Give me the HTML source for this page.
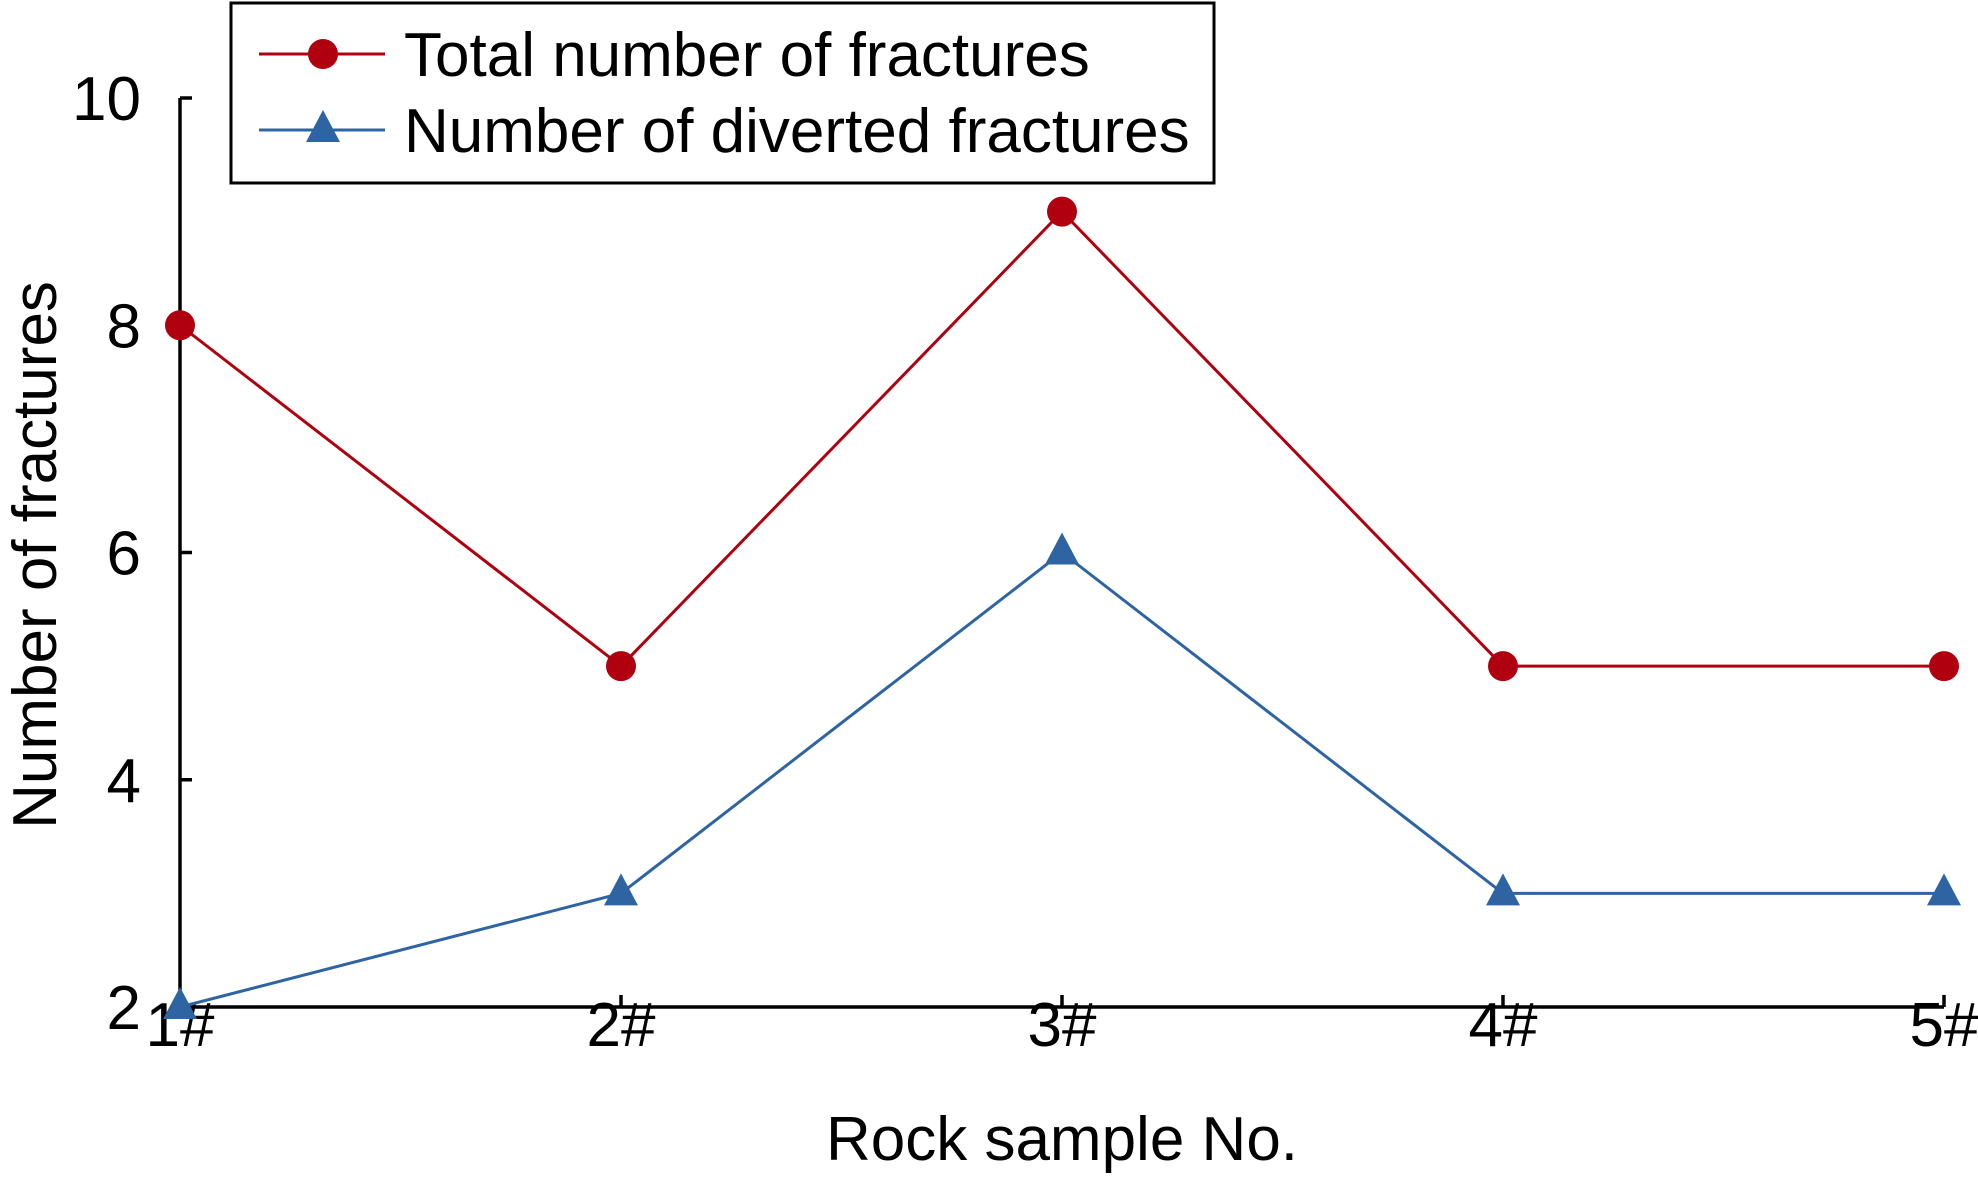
<!DOCTYPE html>
<html><head><meta charset="utf-8"><style>
body{margin:0;background:#fff}
svg{display:block;font-family:"Liberation Sans",Arial,sans-serif}
</style></head><body>
<svg id="chart" width="1978" height="1185" viewBox="0 0 1978 1185" xmlns="http://www.w3.org/2000/svg"></svg>
<script>
const categories = ["1#","2#","3#","4#","5#"];
const totalFractures = [8,5,9,5,5];
const divertedFractures = [2,3,6,3,3];
const yTicks = [2,4,6,8,10];
const NS="http://www.w3.org/2000/svg";
const svg=document.getElementById('chart');
const x0=180,dx=441,y0=1007,yMin=2,yMax=10,yTop=98;
function X(i){return x0+i*dx;}
function Y(v){return y0-(v-yMin)*(y0-yTop)/(yMax-yMin);}
function mk(tag,attrs,parent){const e=document.createElementNS(NS,tag);for(const k in attrs)e.setAttribute(k,attrs[k]);(parent||svg).appendChild(e);return e;}
let a=mk('line',{x1:x0,y1:yTop,x2:x0,y2:y0,stroke:'#000','stroke-width':3.5});


a=mk('line',{x1:x0,y1:y0,x2:X(4),y2:y0,stroke:'#000','stroke-width':3.5});


yTicks.forEach(v=>{
  const t=mk('line',{x1:x0,y1:Y(v),x2:x0+12,y2:Y(v),stroke:'#000','stroke-width':3.5});
  
  
  const l=mk('text',{x:141,y:Y(v)+22,'text-anchor':'end','font-size':62});
  l.textContent=v;
  
  
});
categories.forEach((c,i)=>{
  const t=mk('line',{x1:X(i),y1:y0,x2:X(i),y2:y0-12,stroke:'#000','stroke-width':3.5});
  
  
  const l=mk('text',{x:X(i),y:1046,'text-anchor':'middle','font-size':62});
  l.textContent=c;
  
  
});
let tt=mk('text',{x:1062,y:1160,'text-anchor':'middle','font-size':62});
tt.textContent='Rock sample No.';


tt=mk('text',{x:0,y:0,'text-anchor':'middle','font-size':62,transform:'translate(56,555) rotate(-90)'});
tt.textContent='Number of fractures';


function series(vals,color,shape,name){
  const pl=mk('polyline',{points:vals.map((v,i)=>X(i)+','+Y(v)).join(' '),fill:'none',stroke:color,'stroke-width':3});
  
  
  vals.forEach((v,i)=>{
    let m;
    if(shape==='circle') m=mk('circle',{cx:X(i),cy:Y(v),r:15,fill:color});
    else {const cx=X(i),cy=Y(v);m=mk('polygon',{points:`${cx},${cy-20} ${cx-17},${cy+12} ${cx+17},${cy+12}`,fill:color});}
    
    
  });
}
series(totalFractures,'#b0000f','circle','total-fractures');
series(divertedFractures,'#2f64a3','triangle','diverted-fractures');
const lg=mk('g',{});


mk('rect',{x:231,y:3,width:983,height:180,fill:'#fff',stroke:'#000','stroke-width':3},lg);
const ent=[['Total number of fractures','#b0000f','circle',54],['Number of diverted fractures','#2f64a3','triangle',130]];
ent.forEach(e=>{
  const g=mk('g',{},lg);
  
  
  mk('line',{x1:259,y1:e[3],x2:385,y2:e[3],stroke:e[1],'stroke-width':3},g);
  if(e[2]==='circle') mk('circle',{cx:323,cy:e[3],r:15,fill:e[1]},g);
  else mk('polygon',{points:`323,${e[3]-20} 306,${e[3]+12} 340,${e[3]+12}`,fill:e[1]},g);
  const t=mk('text',{x:404,y:e[3]+22,'font-size':62},g);
  t.textContent=e[0];
});
</script>
</body></html>
